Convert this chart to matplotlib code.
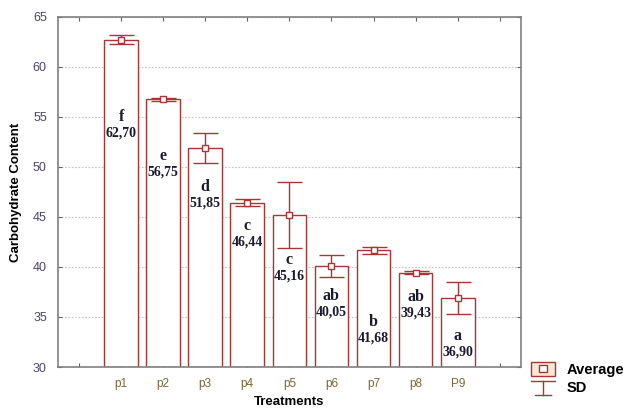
import numpy as np
import matplotlib
matplotlib.use("Agg")
import matplotlib.pyplot as plt
from matplotlib.patches import Patch, Rectangle
from matplotlib.lines import Line2D
from matplotlib.legend_handler import HandlerBase

treatments = ["p1", "p2", "p3", "p4", "p5", "p6", "p7", "p8", "P9"]
average = [62.70, 56.75, 51.85, 46.44, 45.16, 40.05, 41.68, 39.43, 36.90]
sd = [0.45, 0.12, 1.5, 0.35, 3.3, 1.1, 0.35, 0.12, 1.6]
letters = ["f", "e", "d", "c", "c", "ab", "b", "ab", "a"]
value_text = ["62,70", "56,75", "51,85", "46,44", "45,16", "40,05", "41,68", "39,43", "36,90"]

# where the letter sits inside each bar (value text goes just below)
letter_y = [55.0, 51.1, 48.0, 44.1, 40.7, 37.1, 34.5, 37.0, 33.1]

RED = "#a83535"
GRID = "#c4c4c4"


class AvgHandler(HandlerBase):
    def create_artists(self, legend, orig, xd, yd, w, h, fs, trans):
        box = Rectangle((xd, yd - 0.2 * h), w, h * 1.4, facecolor="#fde8d4",
                        edgecolor=RED, lw=1.0, transform=trans)
        sq = Rectangle((xd + w / 2 - 3, yd + h / 2 - 2.5), 6, 5,
                       facecolor="white", edgecolor=RED, lw=1.0,
                       transform=trans)
        return [box, sq]


class SDHandler(HandlerBase):
    def create_artists(self, legend, orig, xd, yd, w, h, fs, trans):
        top = Line2D([xd, xd + w], [yd + h * 1.1, yd + h * 1.1], color=RED,
                     lw=1.0, transform=trans)
        stem = Line2D([xd + w / 2, xd + w / 2], [yd + h * 1.1, yd - 0.3 * h],
                      color=RED, lw=1.0, transform=trans)
        cap = Line2D([xd + w * 0.15, xd + w * 0.85],
                     [yd - 0.3 * h, yd - 0.3 * h],
                     color=RED, lw=1.0, transform=trans)
        return [top, stem, cap]


def main():
    fig = plt.figure(figsize=(6.23, 4.11), dpi=100)
    ax = fig.add_axes([0.093, 0.107, 0.743, 0.852])

    x = np.arange(1, len(treatments) + 1)
    ax.bar(x, np.array(average) - 30, bottom=30, width=0.8,
           color="white", edgecolor=RED, linewidth=1.0, zorder=2)
    ax.errorbar(x, average, yerr=sd, fmt="none", ecolor=RED,
                elinewidth=1.0, capsize=9, capthick=1.0, zorder=3)
    ax.plot(x, average, ls="none", marker="s", ms=4, mfc="white",
            mec=RED, mew=1.0, zorder=4)

    for xi, ly, let, val in zip(x, letter_y, letters, value_text):
        ax.text(xi, ly, let, ha="center", va="center", fontsize=11.5,
                fontweight="bold", family="Liberation Serif", color="#1a1a2e")
        ax.text(xi, ly - 1.6, val, ha="center", va="center", fontsize=10,
                fontweight="bold", family="Liberation Serif", color="#1a1a2e")

    ax.set_xlim(-0.5, 10.5)
    ax.set_ylim(30, 65)
    ax.set_xticks(np.arange(0, 11))
    ax.set_xticklabels([""] + treatments + [""], color="#7a6535",
                       fontsize=8.5, family="Liberation Sans")
    ax.set_yticks(np.arange(30, 66, 5))
    ax.set_yticklabels([str(v) for v in range(30, 66, 5)], color="#4d4468",
                       fontsize=9, family="Liberation Sans")
    ax.tick_params(direction="in", top=True, right=True, length=3,
                   color="#606060", pad=8)
    ax.yaxis.grid(True, ls=(0, (1.5, 1.5)), color=GRID, lw=0.8, zorder=0)
    ax.set_axisbelow(True)
    for s in ax.spines.values():
        s.set_color("#808080")
        s.set_linewidth(1.2)

    ax.set_xlabel("Treatments", fontsize=9.5, fontweight="bold",
                  family="Liberation Sans", labelpad=4)
    ax.set_ylabel("Carbohydrate Content", fontsize=9.5, fontweight="bold",
                  family="Liberation Sans", labelpad=8)

    h_avg = Patch()
    h_sd = Line2D([], [])
    fig.legend([h_avg, h_sd], ["Average", "SD"], loc="lower left",
               bbox_to_anchor=(0.853, 0.038), frameon=False,
               prop={"family": "Liberation Sans", "weight": "bold", "size": 10.5},
               handler_map={Patch: AvgHandler(), Line2D: SDHandler()},
               handlelength=1.6, labelspacing=0.3, handletextpad=0.8,
               borderpad=0, borderaxespad=0)

    fig.savefig("out.png", dpi=100)


if __name__ == '__main__':
    main()
